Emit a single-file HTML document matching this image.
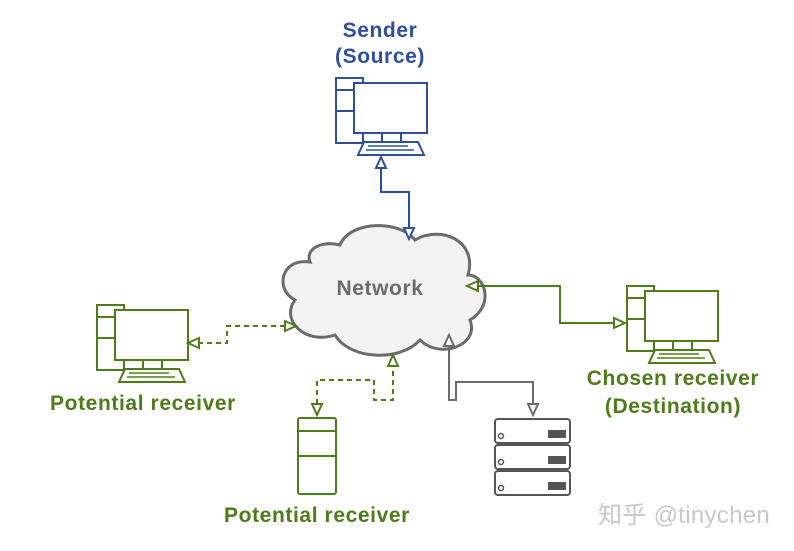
<!DOCTYPE html>
<html><head><meta charset="utf-8"><style>
html,body{margin:0;padding:0;background:#fff;}
svg{display:block;}
text{font-family:"Liberation Sans",Arial,sans-serif;font-weight:bold;letter-spacing:0.6px;}
</style></head><body>
<svg width="794" height="551" viewBox="0 0 794 551" xmlns="http://www.w3.org/2000/svg">
<defs>
<g id="pc">
 <rect x="0" y="0" width="27" height="65" fill="none" stroke-width="2"/>
 <line x1="0" y1="12" x2="18" y2="12" stroke-width="2"/>
 <line x1="0" y1="33" x2="18" y2="33" stroke-width="2"/>
 <rect x="18" y="5" width="73" height="50" fill="#fff" stroke-width="2"/>
 <rect x="46" y="55" width="19" height="9" fill="#fff" stroke-width="2"/>
 <polygon points="28,64 82,64 88,77 22,77" fill="#fff" stroke-width="2"/>
 <line x1="32" y1="68" x2="72" y2="68" stroke-width="1.5"/>
 <line x1="30" y1="72" x2="78" y2="72" stroke-width="1.5"/>
</g>
</defs>
<path d="M310,262 C280,258 275,290 295,300 C280,320 305,345 335,335 C350,360 400,362 420,340 C440,360 480,345 470,320 C495,305 485,275 468,275 C478,240 440,225 415,240 C400,220 350,220 340,245 C320,240 305,250 310,262 Z" fill="#f2f2f2" stroke="#6b6b6b" stroke-width="3"/>
<text x="380" y="295" font-size="21" fill="#6b6b6b" text-anchor="middle">Network</text>

<text x="380" y="37" font-size="21" fill="#2f4f9e" text-anchor="middle">Sender</text>
<text x="380" y="63" font-size="21" fill="#2f4f9e" text-anchor="middle">(Source)</text>
<use href="#pc" x="336" y="78" stroke="#2f4f9e"/>
<path d="M381,168 V192 H409 V228" fill="none" stroke="#2f4f9e" stroke-width="2"/>
<polygon points="381,157 376,168 386,168" fill="#fff" stroke="#2f4f9e" stroke-width="2"/>
<polygon points="409,239 404,228 414,228" fill="#fff" stroke="#2f4f9e" stroke-width="2"/>

<use href="#pc" x="97" y="305" stroke="#507b1a"/>
<text x="143" y="410" font-size="21" fill="#507b1a" text-anchor="middle">Potential receiver</text>
<path d="M198,343 H227 V326 H285" fill="none" stroke="#507b1a" stroke-width="2" stroke-dasharray="5,4"/>
<polygon points="188,343 199,338 199,348" fill="#fff" stroke="#507b1a" stroke-width="2"/>
<polygon points="296,326 285,321 285,331" fill="#fff" stroke="#507b1a" stroke-width="2"/>

<use href="#pc" x="627" y="286" stroke="#507b1a"/>
<text x="673" y="385" font-size="21" fill="#507b1a" text-anchor="middle">Chosen receiver</text>
<text x="673" y="413" font-size="21" fill="#507b1a" text-anchor="middle">(Destination)</text>
<path d="M478,286 H560 V323 H614" fill="none" stroke="#507b1a" stroke-width="2"/>
<polygon points="467,286 478,281 478,291" fill="#fff" stroke="#507b1a" stroke-width="2"/>
<polygon points="625,323 614,318 614,328" fill="#fff" stroke="#507b1a" stroke-width="2"/>

<rect x="298" y="418" width="38" height="76" rx="2" fill="none" stroke="#507b1a" stroke-width="2"/>
<line x1="298" y1="431" x2="336" y2="431" stroke="#507b1a" stroke-width="2"/>
<line x1="298" y1="456" x2="336" y2="456" stroke="#507b1a" stroke-width="2"/>
<text x="317" y="522" font-size="21" fill="#507b1a" text-anchor="middle">Potential receiver</text>
<path d="M317,404 V380 H374 V400 H393 V366" fill="none" stroke="#507b1a" stroke-width="2" stroke-dasharray="5,4"/>
<polygon points="317,415 312,404 322,404" fill="#fff" stroke="#507b1a" stroke-width="2"/>
<polygon points="393,355 388,366 398,366" fill="#fff" stroke="#507b1a" stroke-width="2"/>

<path d="M449,346 V400 H456 V382 H533 V404" fill="none" stroke="#6b6b6b" stroke-width="2"/>
<polygon points="449,335 444,346 454,346" fill="#fff" stroke="#6b6b6b" stroke-width="2"/>
<polygon points="533,415 528,404 538,404" fill="#fff" stroke="#6b6b6b" stroke-width="2"/>
<g stroke="#555" stroke-width="2" fill="#fff">
 <rect x="495" y="419" width="75" height="24" rx="3"/>
 <rect x="495" y="445" width="75" height="24" rx="3"/>
 <rect x="495" y="471" width="75" height="24" rx="3"/>
 <circle cx="501" cy="436" r="2.5" stroke-width="1.5"/>
 <circle cx="501" cy="462" r="2.5" stroke-width="1.5"/>
 <circle cx="501" cy="488" r="2.5" stroke-width="1.5"/>
</g>
<g fill="#555">
 <rect x="548" y="430" width="18" height="8"/>
 <rect x="548" y="456" width="18" height="8"/>
 <rect x="548" y="482" width="18" height="8"/>
</g>
<text x="598" y="523" font-size="24" fill="#c8c8c8" style="font-family:'Liberation Sans','Noto Sans CJK SC',sans-serif;font-weight:normal;letter-spacing:0.3px">知乎 @tinychen</text>
</svg>
</body></html>
